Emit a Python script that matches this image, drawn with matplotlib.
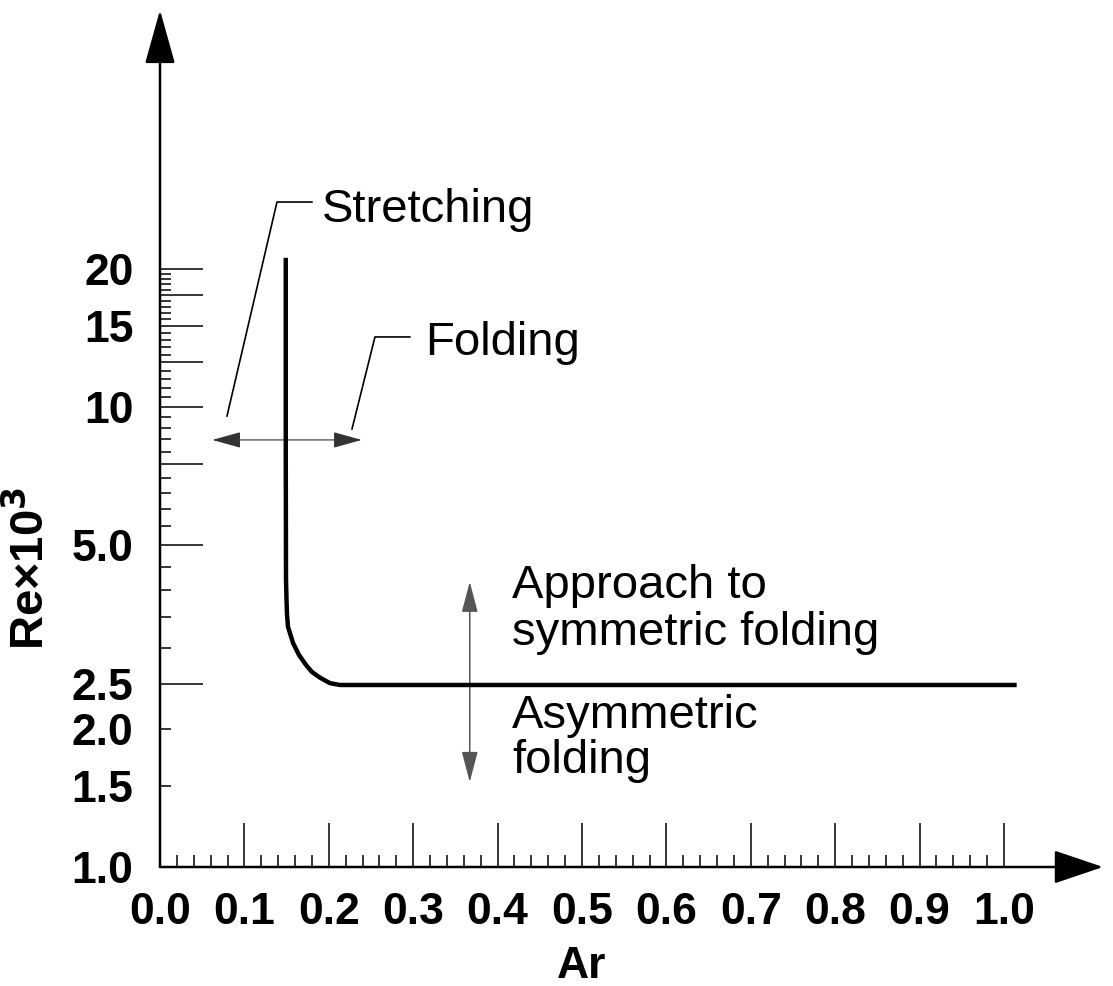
import matplotlib
matplotlib.use("Agg")
import matplotlib.pyplot as plt
from matplotlib.patches import FancyArrowPatch, ArrowStyle
from matplotlib.transforms import blended_transform_factory
import numpy as np

plt.rcParams['font.family'] = ['Liberation Sans', 'DejaVu Sans']

# ---- data ----
ar_curve = [0.149, 0.149, 0.1493, 0.1499, 0.1505, 0.1517, 0.1576, 0.1647, 0.1730, 0.1801,
            0.1896, 0.2014, 0.2133, 0.25, 0.50, 0.75, 1.015]
re_curve = [21.1, 8.0, 4.207, 3.806, 3.530, 3.325, 3.07, 2.890, 2.749, 2.654,
            2.58, 2.51, 2.487, 2.487, 2.487, 2.487, 2.487]

x_major = [0.0, 0.1, 0.2, 0.3, 0.4, 0.5, 0.6, 0.7, 0.8, 0.9, 1.0]
x_major_labels = ['0.0', '0.1', '0.2', '0.3', '0.4', '0.5', '0.6', '0.7', '0.8', '0.9', '1.0']
y_major = [2.5, 5.0, 7.5, 10, 12.5, 15, 17.5, 20]
y_major_labels = ['2.5', '5.0', '', '10', '', '15', '', '20']
y_minor_labelled = {1.0: '1.0', 1.5: '1.5', 2.0: '2.0'}

xlabel = 'Ar'
ylabel = r'Re×10$^{\mathbf{3}}$'

# ---- figure ----
W, H = 1113, 986
fig = plt.figure(figsize=(W / 100, H / 100), dpi=100)
ax = fig.add_axes([160 / W, 119 / H, 943 / W, 857 / H])
ax.set_yscale('log')
ax.set_xlim(0, 943 / 844)
ax.set_ylim(1.0, 10 ** (857 / 460))
for s in ax.spines.values():
    s.set_visible(False)

# ticks
x_minor = [round(v, 2) for v in np.arange(0.02, 1.0, 0.02) if round(v * 100) % 10 != 0]
y_minor = [round(v, 1) for v in np.arange(1.0, 20.01, 0.5) if round(v * 10) % 25 != 0]
ax.set_xticks(x_major)
ax.set_xticklabels(x_major_labels)
ax.set_xticks(x_minor, minor=True)
ax.set_xticklabels([''] * len(x_minor), minor=True)
ax.set_yticks(y_major)
ax.set_yticklabels(y_major_labels)
ax.set_yticks(y_minor, minor=True)
ax.set_yticklabels([y_minor_labelled.get(v, '') for v in y_minor], minor=True)

ax.tick_params(axis='x', which='major', direction='in', length=32, width=1.1, pad=18,
               labelsize=32, top=False)
ax.tick_params(axis='x', which='minor', direction='in', length=8.5, width=1.1, pad=18,
               labelsize=32, top=False)
ax.tick_params(axis='y', which='major', direction='in', length=31, width=1.1, pad=19,
               labelsize=32, right=False)
ax.tick_params(axis='y', which='minor', direction='in', length=8, width=1.1, pad=19,
               labelsize=32, right=False)
for lab in ax.get_xticklabels(which='both') + ax.get_yticklabels(which='both'):
    lab.set_fontweight('bold')

# axis lines with arrows
ax.add_patch(FancyArrowPatch((0, 0), (1, 0), transform=ax.transAxes, clip_on=False,
                             arrowstyle=ArrowStyle('-|>', head_length=31, head_width=10.5),
                             mutation_scale=1, lw=1.8, color='black', shrinkA=0, shrinkB=0))
ax.add_patch(FancyArrowPatch((0, 0), (0, 1), transform=ax.transAxes, clip_on=False,
                             arrowstyle=ArrowStyle('-|>', head_length=34, head_width=9.5),
                             mutation_scale=1, lw=1.8, color='black', shrinkA=0, shrinkB=0))

# curve
ax.plot(ar_curve, re_curve, color='black', lw=3.2, solid_joinstyle='round', solid_capstyle='butt')

# horizontal double arrow
ax.add_patch(FancyArrowPatch((0.062, 8.48), (0.239, 8.48),
                             arrowstyle=ArrowStyle('<|-|>', head_length=18, head_width=5.0),
                             mutation_scale=1, lw=0.8, color='#333333', shrinkA=0, shrinkB=0))
# vertical double arrow
ax.add_patch(FancyArrowPatch((0.367, 1.53), (0.367, 4.17),
                             arrowstyle=ArrowStyle('<|-|>', head_length=19, head_width=5.0),
                             mutation_scale=1, lw=1.1, color='#555555', shrinkA=0, shrinkB=0))

# leaders
ax.plot([0.0794, 0.1386, 0.180], [9.56, 27.9, 27.9], color='black', lw=1.2)
ax.plot([0.2275, 0.2547, 0.296], [8.96, 14.2, 14.2], color='black', lw=1.2)

tfs = 34
ax.text(0.192, 25.25, 'Stretching', fontsize=tfs, ha='left', va='baseline')
ax.text(0.314, 12.97, 'Folding', fontsize=tfs, ha='left', va='baseline')
ax.text(0.417, 3.845, 'Approach to', fontsize=tfs, ha='left', va='baseline')
ax.text(0.417, 3.04, 'symmetric folding', fontsize=tfs, ha='left', va='baseline')
ax.text(0.417, 2.005, 'Asymmetric', fontsize=tfs, ha='left', va='baseline')
ax.text(0.417, 1.601, 'folding', fontsize=tfs, ha='left', va='baseline')

# axis labels
bt = blended_transform_factory(ax.transData, ax.transAxes)
ax.text(0.5, -111 / 857, xlabel, transform=bt, fontsize=32, fontweight='bold',
        ha='center', va='baseline', clip_on=False)
bt2 = blended_transform_factory(ax.transAxes, ax.transData)
ax.text(-130 / 943, 4.47, ylabel, transform=bt2, fontsize=34, fontweight='bold',
        ha='center', va='center', rotation=90, clip_on=False)

fig.savefig('out.png', dpi=100)
